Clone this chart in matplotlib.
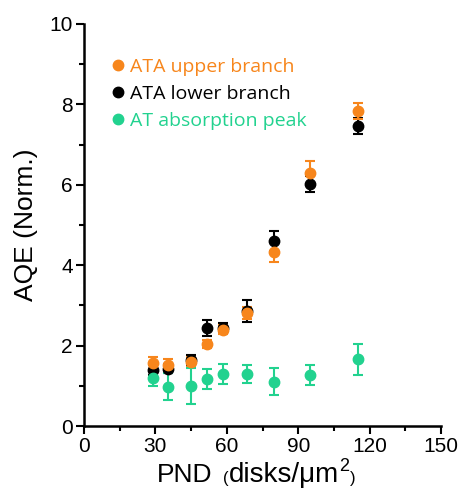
import numpy as np
import matplotlib.pyplot as plt
from matplotlib.ticker import MultipleLocator

pnd = [29, 35.5, 45, 51.5, 58.5, 68.5, 80, 95, 115]

upper = [1.56, 1.52, 1.60, 2.05, 2.40, 2.80, 4.34, 6.29, 7.84]
upper_err = [0.15, 0.15, 0.12, 0.10, 0.12, 0.15, 0.26, 0.29, 0.20]

lower = [1.39, 1.43, 1.64, 2.43, 2.45, 2.86, 4.61, 6.01, 7.45]
lower_err = [0.12, 0.12, 0.12, 0.20, 0.12, 0.28, 0.25, 0.20, 0.20]

peak = [1.19, 0.98, 0.99, 1.17, 1.30, 1.30, 1.10, 1.28, 1.66]
peak_err = [0.19, 0.33, 0.45, 0.25, 0.25, 0.22, 0.34, 0.25, 0.39]

orange = '#f7861c'
green = '#22d28f'

plt.rcParams['font.family'] = ['Liberation Sans', 'DejaVu Sans']

fig = plt.figure(figsize=(4.63, 4.88), dpi=100)
ax = fig.add_axes([0.181, 0.127, 0.772, 0.824])

kw = dict(fmt='o', markersize=7.5, capsize=3.5, elinewidth=1.5, capthick=1.5, linestyle='none')
ax.errorbar(pnd, lower, yerr=lower_err, color='black', label='ATA lower branch', **kw)
ax.errorbar(pnd, upper, yerr=upper_err, color=orange, label='ATA upper branch', **kw)
ax.errorbar(pnd, peak, yerr=peak_err, color=green, label='AT absorption peak', **kw)

ax.set_xlim(0, 150)
ax.set_ylim(0, 10)
ax.xaxis.set_major_locator(MultipleLocator(30))
ax.xaxis.set_minor_locator(MultipleLocator(15))
ax.yaxis.set_major_locator(MultipleLocator(2))
ax.yaxis.set_minor_locator(MultipleLocator(1))
ax.tick_params(which='major', length=6, width=1.5, labelsize=15, pad=2)
ax.tick_params(which='minor', length=3.5, width=1.5)
for s in ['top', 'right']:
    ax.spines[s].set_visible(False)
for s in ['left', 'bottom']:
    ax.spines[s].set_linewidth(1.8)

ax.set_ylabel('AQE (Norm.)', fontsize=19, labelpad=8)

# x label in pieces: small parentheses, raised superscript
# (text, fontsize, baseline shift px, gap before px)
pieces = [('PND', 19, 0, 0), ('(', 12, -1, 10), ('disks/\u03bcm', 20, 0, 1),
          ('2', 13, 11, 0), (')', 12, -1, 1)]
renderer = fig.canvas.get_renderer()
x = 157
for txt, size, dy, gap in pieces:
    x += gap
    t = fig.text(x / 463, (6 + dy) / 488, txt, fontsize=size, ha='left', va='baseline')
    x += t.get_window_extent(renderer).width

handles, labels = ax.get_legend_handles_labels()
order = [1, 0, 2]
leg = ax.legend([handles[i][0] for i in order], [labels[i] for i in order],
                loc='upper left', bbox_to_anchor=(0.02, 0.958), frameon=False,
                handletextpad=0.1, handlelength=1.0, labelspacing=0.45,
                prop={'family': 'Open Sans', 'size': 14})
for t, c in zip(leg.get_texts(), [orange, 'black', green]):
    t.set_color(c)

fig.savefig('out.png', dpi=100)
